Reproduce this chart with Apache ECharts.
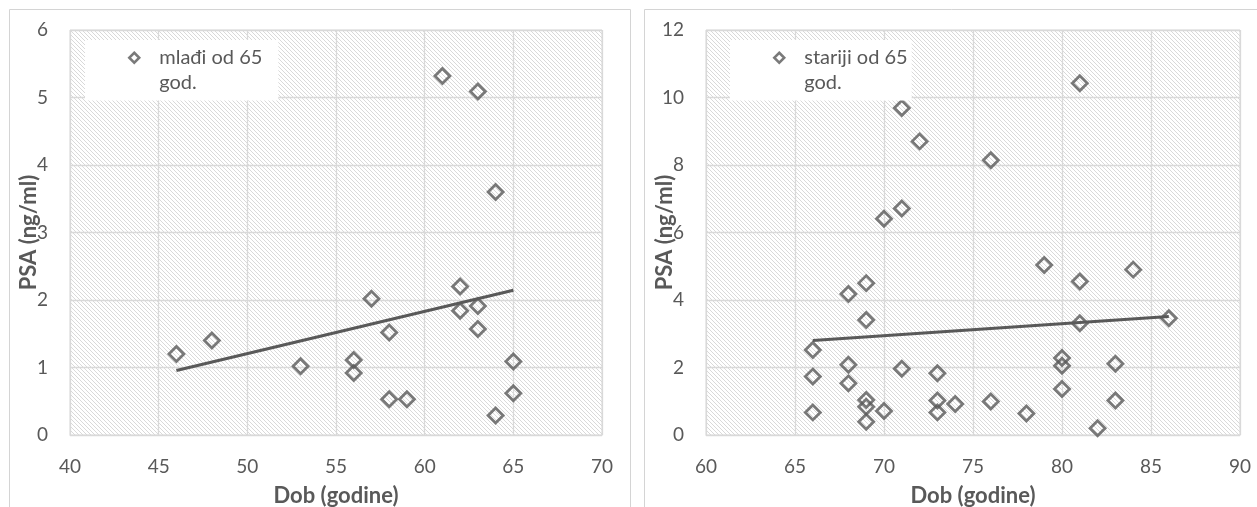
<!DOCTYPE html>
<html>
<head>
<meta charset="utf-8">
<script src="https://cdn.jsdelivr.net/npm/echarts@6/dist/echarts.min.js"></script>
<style>
html,body{margin:0;padding:0;background:#fff;}
#c{width:1257px;height:507px;}
</style>
</head>
<body>
<div id="c"></div>
<script>
// ---- data ----
const seriesYoung = 'mlađi od 65 god.';
const seriesOld = 'stariji od 65 god.';
const ageYoung = [46,48,53,56,56,57,58,58,59,61,62,62,63,63,63,64,64,65,65];
const psaYoung = [1.2,1.4,1.02,1.11,0.92,2.02,1.52,0.53,0.53,5.32,2.2,1.84,5.09,1.91,1.57,3.6,0.29,1.09,0.62];
const ageOld = [66,66,66,68,68,68,69,69,69,69,69,70,70,71,71,71,72,73,73,73,74,76,76,78,79,80,80,80,81,81,81,82,83,83,84,86];
const psaOld = [2.52,1.73,0.67,4.18,2.08,1.53,4.5,3.41,1.04,0.84,0.39,6.41,0.71,9.69,6.71,1.96,8.7,1.83,1.02,0.67,0.92,8.14,0.99,0.64,5.04,2.28,2.05,1.36,10.42,4.55,3.31,0.2,2.11,1.02,4.9,3.46];
const trendYoungAge = [46, 65];
const trendYoungPsa = [0.955, 2.145];
const trendOldAge = [66, 86];
const trendOldPsa = [2.80, 3.51];
const xName = 'Dob (godine)';
const yName = 'PSA (ng/ml)';

// ---- styling ----
const FONT = 'Lato, "Open Sans", sans-serif';
const TXT = '#595959';
const GRIDC = '#d9d9d9';
const MARK = '#595959';

const pc = document.createElement('canvas');
pc.width = 4; pc.height = 4;
const pctx = pc.getContext('2d');
pctx.fillStyle = '#fff'; pctx.fillRect(0,0,4,4);
pctx.fillStyle = '#d9d9d9';
for (let i = 0; i < 4; i++) pctx.fillRect(i, i, 1, 1);
const hatch = {image: pc, repeat: 'repeat'};

const zip = (a, b) => a.map((v, i) => [v, b[i]]);

function xAxis(idx, min, max) {
  return {
    gridIndex: idx, type: 'value', min: min, max: max, interval: 5,
    name: xName, nameLocation: 'middle', nameGap: 50, nameMoveOverlap: false,
    nameTextStyle: {fontFamily: FONT, fontSize: 22, fontWeight: 'bold', color: TXT},
    axisLine: {show: true, lineStyle: {color: GRIDC, width: 1}},
    axisTick: {show: false},
    axisLabel: {fontFamily: FONT, fontSize: 19, color: TXT, margin: 22},
    splitLine: {show: true, lineStyle: {color: GRIDC, width: 1.3}}
  };
}
function yAxis(idx, max, interval) {
  return {
    gridIndex: idx, type: 'value', min: 0, max: max, interval: interval,
    name: yName, nameLocation: 'middle', nameGap: 30, nameMoveOverlap: false,
    nameTextStyle: {fontFamily: FONT, fontSize: 22, fontWeight: 'bold', color: TXT},
    axisLine: {show: false},
    axisTick: {show: false},
    axisLabel: {fontFamily: FONT, fontSize: 19, color: TXT, margin: 22},
    splitLine: {show: true, lineStyle: {color: GRIDC, width: 1.3}}
  };
}
const diamondIcon = 'path://M0,0 M5,7.5 L10,12.5 L5,17.5 L0,12.5 Z M10,50';
function legend(name, left, padR) {
  return {
    data: [name], left: left, top: 40, orient: 'vertical',
    backgroundColor: '#fff', padding: [4, padR, 4, 43],
    itemWidth: 10, itemHeight: 50, icon: diamondIcon,
    itemStyle: {color: '#fff', borderColor: MARK, borderWidth: 2.5},
    formatter: n => n.replace(/ (god\.)$/, '\n$1'),
    textStyle: {fontFamily: FONT, fontSize: 20, color: TXT, lineHeight: 25, padding: [0, 0, 0, 15]},
    selectedMode: false
  };
}
function scatter(name, idx, data) {
  return {
    name: name, type: 'scatter', xAxisIndex: idx, yAxisIndex: idx,
    data: data, symbol: 'diamond', symbolSize: 15,
    itemStyle: {color: 'rgba(255,255,255,0)', borderColor: MARK, borderWidth: 2.8},
    z: 3
  };
}
function trend(idx, data) {
  return {
    name: 'trend', type: 'line', xAxisIndex: idx, yAxisIndex: idx,
    data: data, showSymbol: false, symbol: 'none',
    lineStyle: {color: MARK, width: 3}, z: 4, silent: true
  };
}

const chart = echarts.init(document.getElementById('c'), null, {renderer: 'canvas'});
chart.setOption({
  animation: false,
  backgroundColor: '#fff',
  graphic: [
    {type: 'rect', shape: {x: 9.5, y: 9.5, width: 621, height: 520}, style: {fill: 'none', stroke: '#d4d4d4', lineWidth: 1}, z: -1},
    {type: 'rect', shape: {x: 644.5, y: 9.5, width: 640, height: 520}, style: {fill: 'none', stroke: '#d4d4d4', lineWidth: 1}, z: -1}
  ],
  grid: [
    {left: 70, top: 30, width: 532, height: 405, show: true, backgroundColor: hatch, borderColor: GRIDC, borderWidth: 1, containLabel: false, outerBoundsMode: 'none'},
    {left: 706, top: 30, width: 534, height: 405, show: true, backgroundColor: hatch, borderColor: GRIDC, borderWidth: 1, containLabel: false, outerBoundsMode: 'none'}
  ],
  xAxis: [xAxis(0, 40, 70), xAxis(1, 60, 90)],
  yAxis: [yAxis(0, 6, 1), yAxis(1, 12, 2)],
  legend: [legend(seriesYoung, 85, 16), legend(seriesOld, 730, 4)],
  series: [
    scatter(seriesYoung, 0, zip(ageYoung, psaYoung)),
    trend(0, zip(trendYoungAge, trendYoungPsa)),
    scatter(seriesOld, 1, zip(ageOld, psaOld)),
    trend(1, zip(trendOldAge, trendOldPsa))
  ]
});
</script>
</body>
</html>
